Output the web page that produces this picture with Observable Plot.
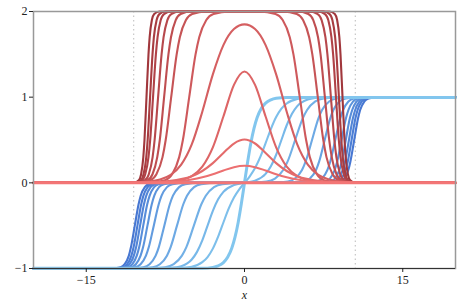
<!DOCTYPE html>
<html><head><meta charset="utf-8">
<script src="https://cdn.jsdelivr.net/npm/d3@7"></script>
<script src="https://cdn.jsdelivr.net/npm/@observablehq/plot@0.6"></script>
<style>body{margin:0;background:#fff}</style>
</head><body><div id="chart"></div>
<script>
// ---- data (right half, x >= 0; curves are symmetric) ----
const xTicks = [-15, 0, 15];
const yTicks = [-1, 0, 1, 2];
const guideX = [-10.5, 10.5];

// levels used for the steep "plateau" curves
const redLevels  = [2, 1.97, 1.9, 1.7, 1.5, 1, 0.5, 0.3, 0.1, 0.03, 0];
const blueLevels = [0, 0.015, 0.05, 0.15, 0.25, 0.5, 0.75, 0.85, 0.95, 0.985, 1];

// red bumps (explicit samples)
const redBumpX = [0, 1, 2, 3, 4, 5, 6, 7, 8, 9, 11];
const redBump02 = [0.199, 0.183, 0.144, 0.100, 0.064, 0.038, 0.022, 0.012, 0.007, 0.004, 0.001];
const redBump05 = [0.505, 0.459, 0.349, 0.230, 0.138, 0.078, 0.044, 0.023, 0.012, 0.006, 0.002];
const redBump13 = [1.30, 1.143, 0.774, 0.414, 0.189, 0.078, 0.031, 0.012, 0.005, 0.002, 0.0];
const redBump185 = [1.85, 1.795, 1.608, 1.266, 0.830, 0.448, 0.212, 0.092, 0.039, 0.016, 0.003];
// red plateaus: x where the right edge passes each of redLevels
const redPlateauEdges = [
  [1.39, 2.94, 3.62, 4.29, 4.64, 5.24, 5.84, 6.19, 6.86, 7.54, 9.09],
  [3.63, 4.96, 5.55, 6.13, 6.43, 6.95, 7.47, 7.77, 8.35, 8.94, 10.28],
  [5.00, 6.05, 6.52, 6.97, 7.21, 7.62, 8.03, 8.27, 8.72, 9.19, 10.25],
  [6.09, 6.94, 7.31, 7.67, 7.86, 8.19, 8.52, 8.71, 9.07, 9.44, 10.29],
  [6.92, 7.63, 7.94, 8.24, 8.40, 8.67, 8.94, 9.10, 9.41, 9.72, 10.42],
  [7.48, 8.07, 8.33, 8.59, 8.72, 8.95, 9.18, 9.31, 9.57, 9.83, 10.42],
  [8.07, 8.56, 8.78, 8.99, 9.10, 9.29, 9.48, 9.59, 9.80, 10.02, 10.52]
];

// blue kinks (explicit samples, odd curves)
const blueKinkX0 = [0, 0.3, 0.6, 0.9, 1.2, 1.6, 2, 2.5, 3, 4];
const blueKinkY0 = [0, 0.245, 0.462, 0.635, 0.762, 0.870, 0.931, 0.969, 0.987, 0.997];
const blueKinkX1 = [0, 0.5, 1, 1.5, 2, 2.5, 3, 3.5, 4, 5, 6, 8];
const blueKinkY1 = [0, 0.076, 0.172, 0.302, 0.463, 0.628, 0.768, 0.866, 0.926, 0.980, 0.995, 1.0];
const blueKinkX2 = [0, 1, 2, 2.5, 3, 3.5, 4, 4.5, 5, 6, 7, 8];
const blueKinkY2 = [0, 0.026, 0.105, 0.193, 0.328, 0.5, 0.672, 0.806, 0.895, 0.973, 0.993, 0.998];
// blue double kinks: x where the right step passes each of blueLevels
const bluePlateauEdges = [
  [0.25, 2.08, 2.89, 3.67, 4.09, 4.80, 5.51, 5.93, 6.71, 7.52, 9.35],
  [2.55, 4.10, 4.78, 5.45, 5.80, 6.40, 7.00, 7.35, 8.02, 8.70, 10.25],
  [4.28, 5.61, 6.20, 6.78, 7.08, 7.60, 8.12, 8.42, 9.00, 9.59, 10.93],
  [5.63, 6.82, 7.35, 7.86, 8.13, 8.60, 9.07, 9.34, 9.85, 10.38, 11.58],
  [6.58, 7.63, 8.10, 8.55, 8.79, 9.20, 9.61, 9.85, 10.30, 10.77, 11.83],
  [7.15, 8.14, 8.57, 8.99, 9.22, 9.60, 9.98, 10.21, 10.63, 11.06, 12.05],
  [7.52, 8.48, 8.90, 9.31, 9.53, 9.90, 10.27, 10.49, 10.90, 11.32, 12.28],
  [7.84, 8.77, 9.18, 9.58, 9.79, 10.15, 10.51, 10.72, 11.12, 11.53, 12.46],
  [8.13, 9.04, 9.45, 9.84, 10.04, 10.40, 10.76, 10.96, 11.36, 11.76, 12.68]
];

// ---- build symmetric point lists ----
function full(xs, ys, odd, id) {
  const right = xs.map((x, i) => ({x, y: ys[i]}));
  const left = right.filter(p => p.x > 0).map(p => ({x: -p.x, y: odd ? -p.y : p.y})).reverse();
  const end = ys[ys.length - 1];
  return [{x: -20, y: odd ? -end : end}, ...left, ...right, {x: 20, y: end}]
    .map(p => ({...p, id}));
}
const redSeries = [
  [[0, 20], [0, 0]],
  [redBumpX, redBump02], [redBumpX, redBump05], [redBumpX, redBump13], [redBumpX, redBump185],
  ...redPlateauEdges.map(e => [[0, ...e], [2, ...redLevels]])
];
const blueSeries = [
  [blueKinkX0, blueKinkY0], [blueKinkX1, blueKinkY1], [blueKinkX2, blueKinkY2],
  ...bluePlateauEdges.map(e => [[0, ...e], [0, ...blueLevels]])
];
const redData = redSeries.flatMap(([xs, ys], i) => full(xs, ys, false, i));
const blueData = blueSeries.flatMap(([xs, ys], i) => full(xs, ys, true, i));

const redColor = d3.interpolateRgb("#f37676", "#a1373c");
const blueColor = d3.interpolateRgb("#82c6ee", "#4777d2");
const nR = redSeries.length, nB = blueSeries.length;

// darkest first, lightest (thick) last -> on top
const lineMarks = [];
for (let i = nB - 1; i >= 0; i--) {
  lineMarks.push(Plot.line(blueData.filter(d => d.id === i), {
    x: "x", y: "y", curve: "monotone-x",
    stroke: blueColor(i / (nB - 1)), strokeWidth: i === 0 ? 3 : 2.1
  }));
}
for (let i = nR - 1; i >= 0; i--) {
  lineMarks.push(Plot.line(redData.filter(d => d.id === i), {
    x: "x", y: "y", curve: "monotone-x",
    stroke: redColor(i / (nR - 1)), strokeWidth: i === 0 ? 3 : 2.1
  }));
}

const serif = "'Liberation Serif', 'Times New Roman', serif";
const fmt = d => (d < 0 ? "\u2212" : "") + Math.abs(d);
const chart = Plot.plot({
  width: 458, height: 306,
  marginLeft: 33, marginRight: 3, marginTop: 11, marginBottom: 38,
  style: {fontFamily: serif, fontSize: "12px", color: "#222"},
  x: {domain: [-20, 20]},
  y: {domain: [-1, 2]},
  marks: [
    Plot.ruleX(guideX, {stroke: "#bbb", strokeDasharray: "1.5,3", strokeWidth: 1}),
    ...lineMarks,
    Plot.frame({stroke: "#999", strokeWidth: 1.5}),
    Plot.ruleY([-1], {stroke: "#333", strokeWidth: 1.2}),
    Plot.axisX(xTicks, {tickSize: 4, label: null, tickPadding: 3, fontSize: 12, fontFamily: serif, tickFormat: fmt}),
    Plot.axisY(yTicks, {tickSize: 4, label: null, tickPadding: 2, fontSize: 12, fontFamily: serif, tickFormat: fmt}),
    Plot.text(["x"], {frameAnchor: "bottom", dy: 30, fontStyle: "italic", fontSize: 12, fontFamily: serif})
  ]
});
document.getElementById("chart").append(chart);
</script>
</body></html>
